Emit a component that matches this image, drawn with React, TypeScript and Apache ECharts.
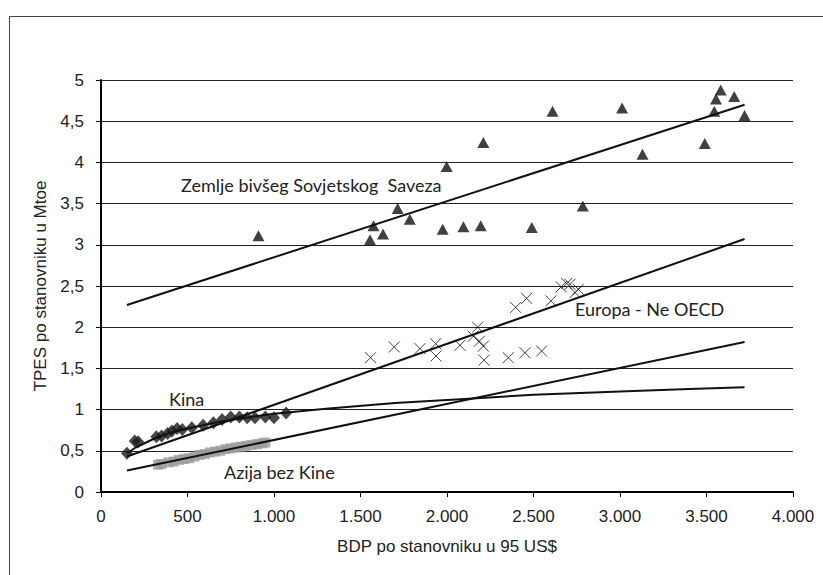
import React, { useEffect, useRef } from "react";
import * as echarts from "echarts";

// GDP per capita (95 US$) vs. TPES per capita (Mtoe)
const sovjetPoints: [number, number][] = [
  [910, 3.11], [1555, 3.06], [1575, 3.23], [1630, 3.13], [1715, 3.44], [1785, 3.31],
  [1975, 3.19], [1998, 3.95], [2095, 3.22], [2195, 3.23], [2210, 4.24], [2490, 3.21],
  [2610, 4.62], [2785, 3.47], [3012, 4.66], [3130, 4.1], [3490, 4.23], [3545, 4.62],
  [3555, 4.77], [3582, 4.88], [3660, 4.8], [3720, 4.57],
];

const europaPoints: [number, number][] = [
  [1558, 1.63], [1695, 1.76], [1844, 1.74], [1935, 1.8], [1936, 1.65], [2075, 1.78],
  [2152, 1.89], [2177, 2.0], [2187, 1.83], [2210, 1.77], [2214, 1.6], [2354, 1.63],
  [2397, 2.24], [2451, 1.69], [2460, 2.35], [2547, 1.71], [2601, 2.32], [2660, 2.49],
  [2692, 2.53], [2711, 2.52], [2740, 2.42], [2759, 2.46],
];

const kinaPoints: [number, number][] = [
  [150, 0.47], [195, 0.62], [215, 0.61], [320, 0.67], [350, 0.68], [385, 0.71],
  [410, 0.74], [440, 0.77], [470, 0.76], [525, 0.78], [590, 0.81], [650, 0.84],
  [700, 0.88], [750, 0.91], [800, 0.91], [845, 0.9], [890, 0.9], [950, 0.91],
  [1000, 0.9], [1070, 0.96],
];

const azijaPoints: [number, number][] = [
  [330, 0.33], [350, 0.34], [390, 0.36], [420, 0.37], [450, 0.39], [480, 0.4],
  [510, 0.41], [540, 0.43], [570, 0.45], [600, 0.46], [630, 0.48], [660, 0.49],
  [690, 0.5], [720, 0.52], [750, 0.53], [780, 0.54], [810, 0.55], [840, 0.56],
  [870, 0.57], [900, 0.58], [930, 0.59], [950, 0.6],
];

// Trend lines
const sovjetTrend: [number, number][] = [[150, 2.27], [3720, 4.7]];
const europaTrend: [number, number][] = [[150, 0.43], [3720, 3.07]];
const azijaTrend: [number, number][] = [[150, 0.26], [3720, 1.82]];
const kinaTrend: [number, number][] = [
  [150, 0.47], [200, 0.54], [300, 0.64], [400, 0.72], [500, 0.77], [700, 0.86],
  [1000, 0.95], [1300, 1.01], [1700, 1.08], [2100, 1.13], [2500, 1.18],
  [3000, 1.22], [3400, 1.25], [3720, 1.27],
];

const seriesLabels = [
  { text: "Zemlje bivšeg Sovjetskog  Saveza", x: 181, y: 187 },
  { text: "Europa - Ne OECD", x: 575, y: 311 },
  { text: "Kina", x: 169, y: 401 },
  { text: "Azija bez Kine", x: 224, y: 474 },
];

const xTitle = "BDP po stanovniku u 95 US$";
const yTitle = "TPES po stanovniku u Mtoe";

const axisFont = '"Liberation Sans", Arial, sans-serif';
const labelFont = 'Lato, "Open Sans", sans-serif';

const crossPath = "path://M0,0L10,10M0,10L10,0";

function trendSeries(data: [number, number][]) {
  return {
    type: "line",
    data,
    showSymbol: false,
    symbol: "none",
    smooth: false,
    z: 5,
    lineStyle: { color: "#111", width: 2 },
  };
}

export default function App() {
  const ref = useRef<HTMLDivElement>(null);

  useEffect(() => {
    if (!ref.current) return;
    const chart = echarts.init(ref.current, undefined, { renderer: "svg" });
    chart.setOption({
      animation: false,
      backgroundColor: "#fff",
      grid: { left: 101, top: 80, width: 692, height: 412 },
      xAxis: {
        type: "value",
        min: 0,
        max: 4000,
        interval: 500,
        name: xTitle,
        nameLocation: "middle",
        nameGap: 46,
        nameTextStyle: { fontFamily: axisFont, fontSize: 17, color: "#222" },
        axisLine: { show: true, lineStyle: { color: "#000", width: 2 } },
        axisTick: { show: true, length: 5, lineStyle: { color: "#000", width: 1 } },
        axisLabel: {
          margin: 16,
          fontFamily: axisFont,
          fontSize: 17,
          color: "#222",
          formatter: (v: number) => (v >= 1000 ? `${Math.floor(v / 1000)}.${String(v % 1000).padStart(3, "0")}` : String(v)),
        },
        splitLine: { show: false },
      },
      yAxis: {
        type: "value",
        min: 0,
        max: 5,
        interval: 0.5,
        name: yTitle,
        nameLocation: "middle",
        nameGap: 52,
        nameTextStyle: { fontFamily: axisFont, fontSize: 17, color: "#222" },
        axisLine: { show: true, lineStyle: { color: "#000", width: 2 } },
        axisTick: { show: true, length: 5, lineStyle: { color: "#000", width: 1 } },
        axisLabel: {
          margin: 17,
          fontFamily: axisFont,
          fontSize: 17,
          color: "#222",
          formatter: (v: number) => String(v).replace(".", ","),
        },
        splitLine: { show: true, lineStyle: { color: "#222", width: 1 } },
      },
      graphic: [
        {
          type: "rect",
          silent: true,
          shape: { x: 9.5, y: 16.5, width: 900, height: 700 },
          style: { fill: "none", stroke: "#444", lineWidth: 1 },
        },
        ...seriesLabels.map((l) => ({
          type: "text",
          silent: true,
          left: l.x,
          top: l.y - 11,
          z: 10,
          style: { text: l.text, font: `18px ${labelFont}`, fill: "#222" },
        })),
      ],
      series: [
        {
          type: "scatter",
          data: azijaPoints,
          symbol: "rect",
          symbolSize: 10,
          itemStyle: { color: "#9a9a9a" },
          z: 2,
        },
        {
          type: "scatter",
          data: kinaPoints,
          symbol: "diamond",
          symbolSize: [12, 13],
          itemStyle: { color: "#1a1a1a" },
          z: 3,
        },
        {
          type: "scatter",
          data: europaPoints,
          symbol: crossPath,
          symbolSize: 11,
          itemStyle: { color: "none", borderColor: "#111", borderWidth: 1 },
          z: 3,
        },
        {
          type: "scatter",
          data: sovjetPoints,
          symbol: "triangle",
          symbolSize: [12, 11],
          itemStyle: { color: "#111" },
          z: 3,
        },
        trendSeries(sovjetTrend),
        trendSeries(europaTrend),
        trendSeries(azijaTrend),
        trendSeries(kinaTrend),
      ],
    });
    return () => chart.dispose();
  }, []);

  return (
    <div
      ref={ref}
      style={{ position: "fixed", left: 0, top: 0, width: 823, height: 575 }}
    />
  );
}
